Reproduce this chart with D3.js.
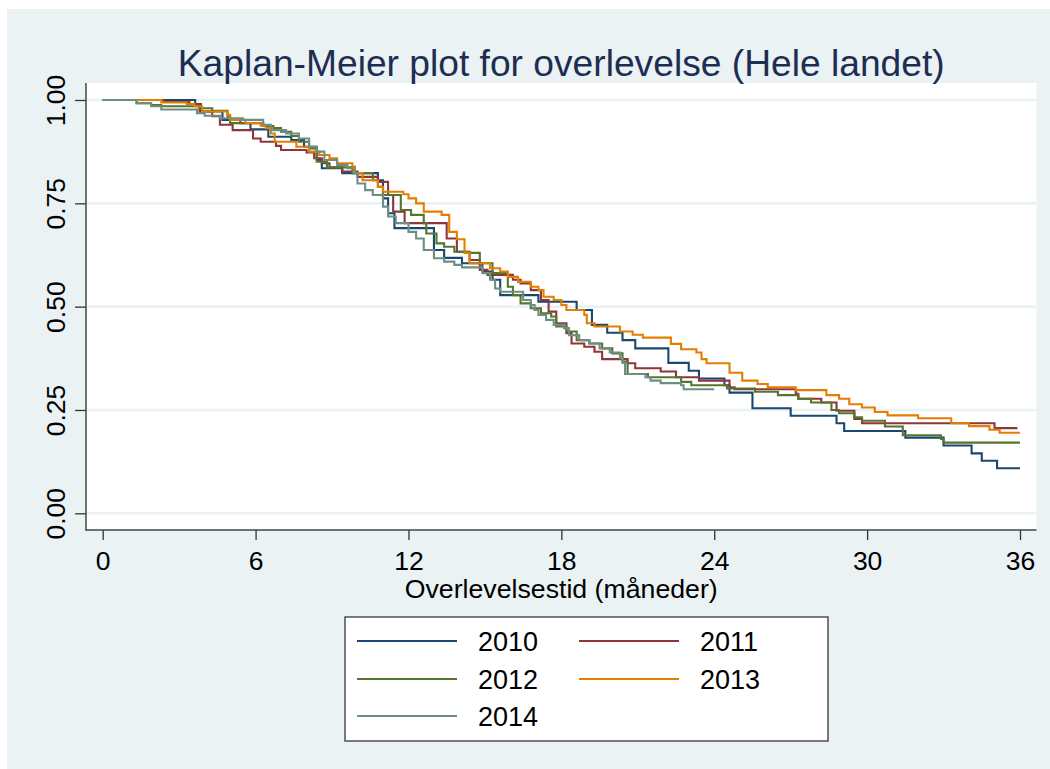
<!DOCTYPE html>
<html><head><meta charset="utf-8">
<script src="https://cdn.jsdelivr.net/npm/d3@7"></script>
<style>
body{margin:0;background:#fff;}
svg{display:block;}
text{font-family:Arial,"Liberation Sans",sans-serif;}
</style>
</head><body>
<svg id="chart" width="1050" height="769"></svg>
<script>
// ---- data ----
const years = ["2010","2011","2012","2013","2014"];
const colors = ["#1a476f","#90353b","#55752f","#e37e00","#6e8e84"];
const xTicks = [0,6,12,18,24,30,36];
const yTicks = [0,0.25,0.5,0.75,1];
const yTickLabels = ["0.00","0.25","0.50","0.75","1.00"];
const titleText = "Kaplan-Meier plot for overlevelse (Hele landet)";
const xTitle = "Overlevelsestid (måneder)";

const t2010 = [0,3.63,3.85,4.7,5.4,5.8,6.5,7.4,7.9,8.4,8.6,9.4,10.8,11.0,11.2,11.45,13.0,13.4,14.1,14.9,15.3,15.6,17.1,18.6,19.2,19.8,20.4,20.9,22.2,23.0,23.4,24.4,24.6,25.5,27.0,28.8,29.1,31.5,33.0,34.1,34.5,35.1,36.0];
const s2010 = [1,0.99,0.972,0.952,0.944,0.929,0.911,0.903,0.887,0.855,0.835,0.823,0.806,0.762,0.726,0.69,0.637,0.618,0.605,0.585,0.565,0.528,0.512,0.492,0.456,0.437,0.419,0.399,0.364,0.345,0.326,0.31,0.292,0.254,0.236,0.218,0.199,0.183,0.164,0.145,0.127,0.109,0.109];

const t2011 = [0,2.4,3.4,3.8,4.3,4.6,5.1,5.9,6.2,6.8,7.0,8.0,8.3,8.6,8.9,9.4,10.0,10.8,11.2,11.4,11.85,13.5,13.9,14.4,14.8,15.1,16.1,16.4,16.8,17.2,17.5,17.8,18.2,18.4,18.9,19.3,19.6,20.6,20.9,21.9,22.5,23.4,24.6,24.8,27.2,27.3,28.2,28.8,29.5,29.8,35.0,35.9];
const s2011 = [1,0.995,0.99,0.972,0.961,0.94,0.927,0.907,0.899,0.889,0.879,0.873,0.859,0.847,0.837,0.827,0.814,0.802,0.77,0.73,0.702,0.665,0.633,0.613,0.589,0.577,0.565,0.556,0.54,0.516,0.488,0.46,0.436,0.411,0.403,0.391,0.373,0.363,0.351,0.343,0.329,0.321,0.305,0.3,0.289,0.277,0.268,0.248,0.228,0.218,0.206,0.206];

const t2012 = [0,1.33,1.9,2.3,3.8,4.3,4.9,5.0,6.3,6.7,7.0,7.4,7.7,8.1,8.4,8.8,9.8,10.6,10.8,11.0,11.7,12.1,12.6,12.7,13.1,13.4,13.8,14.3,14.8,15.3,15.9,16.1,16.4,16.8,17.2,17.6,17.8,18.2,18.6,19.1,19.6,20.0,20.4,20.6,21.4,22.7,23.1,24.5,25.6,26.5,27.3,27.8,28.6,28.9,29.5,29.8,30.7,31.4,32.9,33.0,36.0];
const s2012 = [1,0.992,0.988,0.985,0.98,0.974,0.96,0.944,0.937,0.932,0.923,0.913,0.899,0.883,0.851,0.837,0.823,0.806,0.79,0.77,0.734,0.722,0.702,0.677,0.653,0.645,0.633,0.63,0.605,0.581,0.548,0.528,0.508,0.496,0.484,0.476,0.452,0.44,0.419,0.411,0.399,0.387,0.367,0.337,0.329,0.318,0.31,0.302,0.294,0.286,0.277,0.268,0.25,0.242,0.232,0.224,0.21,0.189,0.18,0.171,0.171];

const t2013 = [0,2.3,3.3,3.6,3.9,4.9,5.0,5.6,6.2,6.4,6.6,6.75,7.6,8.1,8.5,8.9,9.2,9.8,9.9,10.2,10.8,11.0,11.8,12.0,12.3,12.6,13.3,13.6,13.9,14.2,14.4,15.2,15.6,15.9,16.3,16.8,17.1,17.3,17.7,18.0,18.2,18.9,19.0,19.3,20.3,20.8,21.2,22.3,22.7,23.3,23.5,23.7,24.6,25.1,25.7,26.1,27.2,28.4,28.9,29.3,29.8,30.3,30.8,32.0,33.3,34.0,34.8,35.2,36.0];
const s2013 = [1,0.994,0.99,0.985,0.972,0.964,0.952,0.944,0.938,0.932,0.919,0.899,0.887,0.875,0.867,0.859,0.847,0.839,0.823,0.806,0.79,0.778,0.772,0.762,0.75,0.73,0.722,0.681,0.663,0.63,0.605,0.593,0.585,0.572,0.56,0.548,0.54,0.524,0.516,0.504,0.492,0.48,0.46,0.452,0.44,0.432,0.425,0.41,0.397,0.389,0.373,0.363,0.34,0.321,0.313,0.305,0.298,0.286,0.277,0.264,0.256,0.245,0.237,0.23,0.218,0.211,0.202,0.195,0.195];

const t2014 = [0,1.33,1.9,2.3,3.7,4.0,4.6,5.5,6.3,6.6,7.2,7.7,8.1,8.4,8.7,9.2,9.6,9.85,10.0,10.3,10.6,11.0,11.2,11.5,12.0,12.3,12.6,13.0,13.4,13.8,14.1,14.9,15.2,15.4,15.6,16.5,16.8,16.95,17.1,17.4,17.7,18.1,18.3,18.7,19.1,19.5,19.9,20.3,20.4,20.5,21.3,21.5,21.9,22.7,22.8,24.0];
const s2014 = [1,0.992,0.985,0.977,0.968,0.962,0.956,0.952,0.94,0.927,0.919,0.907,0.887,0.875,0.855,0.843,0.835,0.823,0.798,0.782,0.77,0.742,0.718,0.702,0.681,0.665,0.637,0.617,0.609,0.601,0.595,0.581,0.565,0.544,0.536,0.516,0.504,0.492,0.48,0.468,0.456,0.448,0.431,0.419,0.411,0.399,0.389,0.375,0.364,0.337,0.329,0.321,0.315,0.31,0.3,0.3];

const times = [t2010,t2011,t2012,t2013,t2014];
const survs = [s2010,s2011,s2012,s2013,s2014];

// ---- layout ----
const W = 1050, H = 769;
const bg = "#eaf2f3";
const plot = {left:86, top:83, right:1036.5, bottom:530};

const svg = d3.select("#chart");
svg.append("rect").attr("x",0).attr("y",0).attr("width",W).attr("height",H).attr("fill","#fff");
svg.append("rect").attr("x",7).attr("y",9).attr("width",W-7).attr("height",H-9).attr("fill",bg);
svg.append("rect").attr("x",plot.left).attr("y",plot.top)
  .attr("width",plot.right-plot.left).attr("height",plot.bottom-plot.top).attr("fill","#fff");

const x = d3.scaleLinear().domain([0,36]).range([102.7,1020]);
const y = d3.scaleLinear().domain([0,1]).range([513.3,100]);

// gridlines
svg.append("g").selectAll("line").data(yTicks).join("line")
  .attr("x1",plot.left+1).attr("x2",plot.right)
  .attr("y1",d=>y(d)).attr("y2",d=>y(d))
  .attr("stroke",bg).attr("stroke-width",2.6);

// axes
const yAxis = d3.axisLeft(y).tickValues(yTicks).tickFormat((d,i)=>yTickLabels[i]).tickSize(11).tickSizeOuter(0);
const gy = svg.append("g").attr("transform",`translate(${plot.left},0)`).call(yAxis);
gy.select(".domain").remove();
gy.selectAll(".tick line").attr("stroke","#333").attr("stroke-width",1.3);
gy.selectAll(".tick text")
  .attr("font-size",26.5).attr("fill","#000")
  .attr("text-anchor","middle")
  .attr("x",0).attr("dy",0)
  .attr("transform","translate(-21,0) rotate(-90)");

const xAxis = d3.axisBottom(x).tickValues(xTicks).tickSize(10).tickSizeOuter(0);
const gx = svg.append("g").attr("transform",`translate(0,${plot.bottom})`).call(xAxis);
gx.select(".domain").remove();
gx.selectAll(".tick line").attr("stroke","#333").attr("stroke-width",1.3);
gx.selectAll(".tick text").attr("font-size",26.5).attr("fill","#000").attr("y",40).attr("dy",0);

// axis lines
svg.append("line").attr("x1",plot.left).attr("x2",plot.left).attr("y1",plot.top).attr("y2",plot.bottom+0.7)
  .attr("stroke","#444").attr("stroke-width",1.5);
svg.append("line").attr("x1",plot.left).attr("x2",plot.right).attr("y1",plot.bottom).attr("y2",plot.bottom)
  .attr("stroke","#444").attr("stroke-width",1.5);

// curves
const line = d3.line().curve(d3.curveStepAfter).x(d=>x(d[0])).y(d=>y(d[1]));
years.forEach((yr,k)=>{
  const pts = times[k].map((t,i)=>[t,survs[k][i]]);
  svg.append("path").datum(pts).attr("d",line)
    .attr("fill","none").attr("stroke",colors[k]).attr("stroke-width",2.1)
    .attr("stroke-linejoin","miter");
});

// title
svg.append("text").attr("x",(plot.left+plot.right)/2).attr("y",76)
  .attr("text-anchor","middle").attr("font-size",37.2).attr("fill","#1e2d52").text(titleText);
// x axis title
svg.append("text").attr("x",(plot.left+plot.right)/2).attr("y",598)
  .attr("text-anchor","middle").attr("font-size",26.7).attr("fill","#000").text(xTitle);

// legend
const lg = svg.append("g");
lg.append("rect").attr("x",345).attr("y",617).attr("width",483).attr("height",124)
  .attr("fill","#fff").attr("stroke","#444").attr("stroke-width",1.4);
const colX = [357,579], rowY = [641,679,716];
years.forEach((yr,k)=>{
  const cx = colX[k%2], ry = rowY[Math.floor(k/2)];
  lg.append("line").attr("x1",cx).attr("x2",cx+100).attr("y1",ry).attr("y2",ry)
    .attr("stroke",colors[k]).attr("stroke-width",2.1);
  lg.append("text").attr("x",cx+121).attr("y",ry+9.5).attr("font-size",27).attr("fill","#000").text(yr);
});
</script>
</body></html>
